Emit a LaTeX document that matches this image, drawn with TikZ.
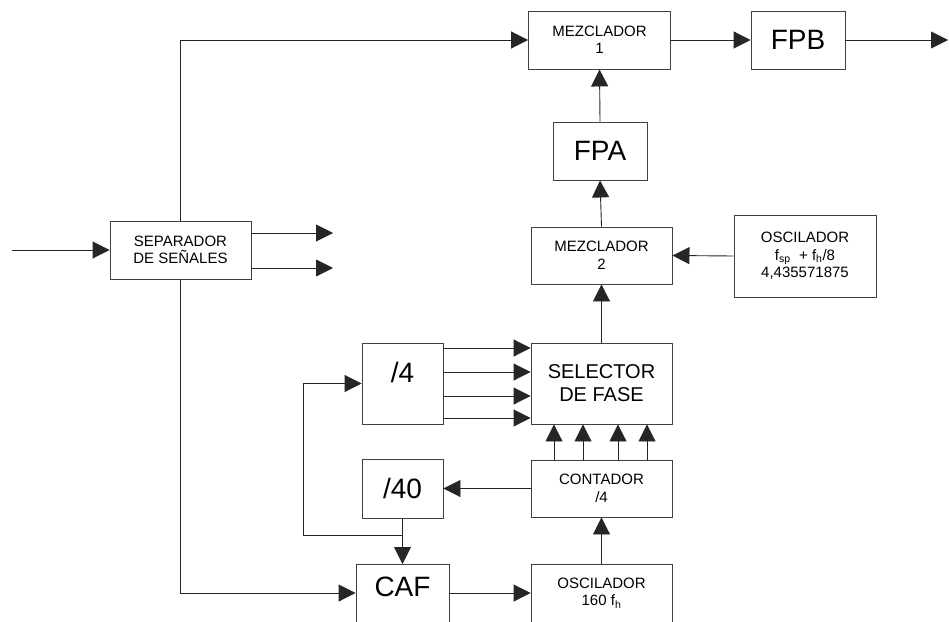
\documentclass[tikz,border=0pt]{standalone}
\usepackage{fontspec}
\setmainfont{Liberation Sans}
\usetikzlibrary{arrows.meta,calc}
\begin{document}
\begin{tikzpicture}[x=1pt,y=-1pt,
  blk/.style={draw=black!75, line width=0.9pt, fill=white, inner sep=0pt, align=center},
  smalltxt/.style={font=\fontsize{15}{17.5}\selectfont, align=center},
  midtxt/.style={font=\fontsize{20}{23}\selectfont, align=center},
  bigtxt/.style={font=\fontsize{28}{32}\selectfont, align=center},
  conn/.style={draw=black!85, line width=0.9pt},
  arr/.style={conn, -{Triangle[length=17pt,width=17pt]}}]
\clip (0,0) rectangle (949,621);
\fill[white] (0,0) rectangle (949,621);
% blocks
\node[blk, smalltxt, minimum width=142, minimum height=58] (mez1) at (599.5,40) {MEZCLADOR\\1};
\node[blk, bigtxt, minimum width=94, minimum height=58] (fpb) at (798,40) {FPB};
\node[blk, bigtxt, minimum width=94, minimum height=58] (fpa) at (600,151) {FPA};
\node[blk, smalltxt, minimum width=141, minimum height=57] (mez2) at (601.5,255.5) {MEZCLADOR\\2};
\node[blk, smalltxt, minimum width=142, minimum height=82] (osc1) at (805,256) {OSCILADOR\\f\textsubscript{sp} \ + f\textsubscript{h}/8\\4,435571875};
\node[blk, smalltxt, minimum width=141, minimum height=58] (sep) at (180.5,250) {SEPARADOR\\DE SEÑALES};
\node[blk, minimum width=81, minimum height=81] (div4) at (402.5,383.5) {};
\node[bigtxt] (div4t) at (402.5,372) {/4};
\node[blk, midtxt, minimum width=141, minimum height=81] (sel) at (601.5,383.5) {SELECTOR\\DE FASE};
\node[blk, bigtxt, minimum width=81, minimum height=59] (div40) at (402.5,488.5) {/40};
\node[blk, smalltxt, minimum width=141, minimum height=57] (cont) at (601.5,488.5) {CONTADOR\\/4};
\node[blk, anchor=north, minimum width=93, minimum height=100] (caf) at (402.5,564) {};
\node[bigtxt] (caft) at (402.5,587) {CAF};
\node[blk, anchor=north, minimum width=141, minimum height=100] (osc2) at (601.5,564) {};
\node[smalltxt] (osc2t) at (601.5,593) {OSCILADOR\\160 f\textsubscript{h}};
% free ends
\coordinate (in) at (12,250);
\coordinate (out) at (948,40);
\coordinate (s1) at (333,233);
\coordinate (s2) at (333,268);
\coordinate (fbc) at (303,535);
\coordinate (j) at (402.5,535);
% connectors
\draw[arr] (sep.north) |- (mez1.west);
\draw[arr] (mez1.east) -- (fpb.west);
\draw[arr] (fpb.east) -- (out);
\draw[arr] (fpa.north) -- (mez1.south);
\draw[arr] (mez2.north) -- (fpa.south);
\draw[arr] (osc1.west) -- (mez2.east);
\draw[arr] (sel.north) -- (mez2.south);
\draw[arr] (in) -- (sep.west);
\draw[arr] (sep.east |- s1) -- (s1);
\draw[arr] (sep.east |- s2) -- (s2);
\draw[arr] (sep.south) |- ([yshift=-29pt]caf.north west);
\draw[arr] ([yshift=-29pt]caf.north east) -- ([yshift=-29pt]osc2.north west);
\draw[arr] (osc2.north) -- (cont.south);
\draw[arr] (cont.west) -- (div40.east);
\draw[arr] (div40.south) -- (caf.north);
\draw[arr] (j) -- (fbc) |- (div4.west);
\foreach \yy in {348,372,396,418}
  \draw[arr] (div4.east |- 0,\yy) -- (sel.west |- 0,\yy);
\foreach \xx in {554,583,618,647}
  \draw[arr] (cont.north -| \xx,0) -- (sel.south -| \xx,0);
\end{tikzpicture}
\end{document}
